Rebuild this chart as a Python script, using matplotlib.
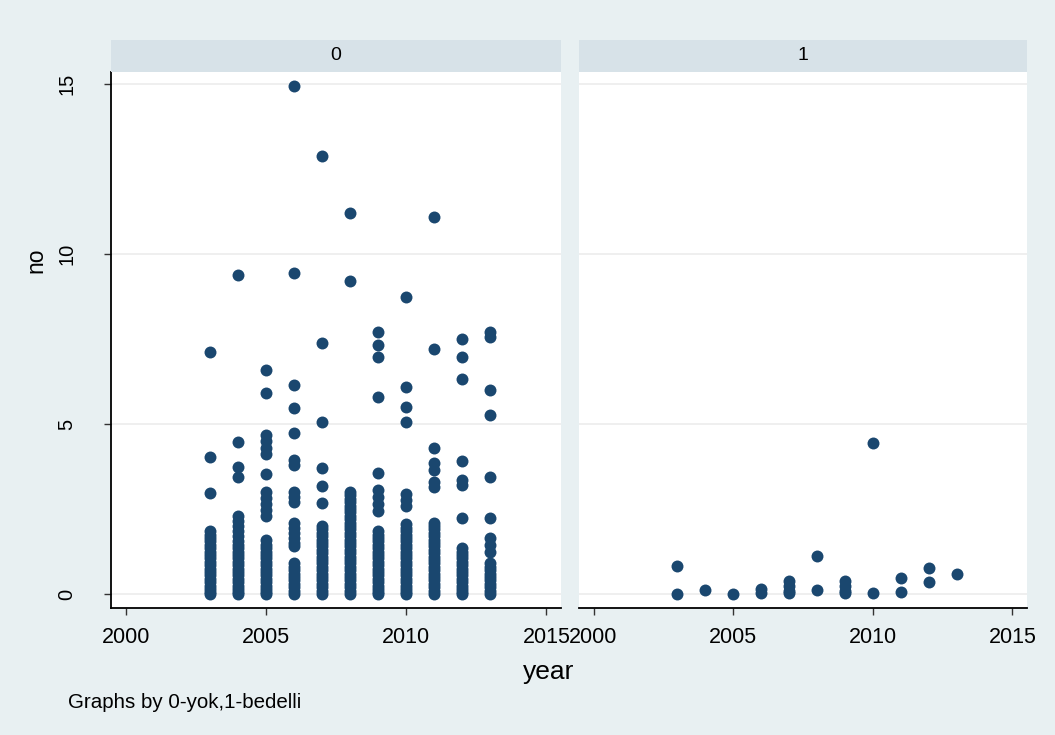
import matplotlib
matplotlib.use("Agg")
import matplotlib.pyplot as plt

plt.rcParams["font.family"] = ["Liberation Sans", "DejaVu Sans"]

# no by year, group 0 (yok)
YOK_2003 = [7.12, 4.03, 2.97, 1.85, 1.75, 1.65, 1.55, 1.45, 1.35, 1.25, 1.15, 1.05, 0.95,
            0.85, 0.75, 0.65, 0.55, 0.45, 0.35, 0.25, 0.15, 0.05, 0.0]
YOK_2004 = [9.38, 4.47, 3.74, 3.44, 2.3, 2.15, 2.0, 1.85, 1.7, 1.55, 1.45, 1.35, 1.25, 1.15,
            1.05, 0.95, 0.85, 0.75, 0.65, 0.55, 0.45, 0.35, 0.25, 0.15, 0.05, 0.0]
YOK_2005 = [6.6, 5.92, 4.68, 4.5, 4.3, 4.12, 3.53, 3.0, 2.82, 2.64, 2.46, 2.3, 1.6, 1.45,
            1.35, 1.25, 1.15, 1.05, 0.95, 0.85, 0.75, 0.65, 0.55, 0.45, 0.35, 0.25, 0.15,
            0.05, 0.0]
YOK_2006 = [14.94, 9.44, 6.15, 5.47, 4.74, 3.95, 3.8, 3.0, 2.85, 2.7, 2.1, 1.95, 1.8, 1.65,
            1.5, 1.4, 0.9, 0.8, 0.7, 0.6, 0.5, 0.4, 0.3, 0.2, 0.1, 0.0]
YOK_2007 = [12.88, 7.38, 5.05, 3.72, 3.18, 2.69, 2.0, 1.9, 1.8, 1.7, 1.6, 1.5, 1.4, 1.3,
            1.2, 1.1, 1.0, 0.9, 0.8, 0.7, 0.6, 0.5, 0.4, 0.3, 0.2, 0.1, 0.0]
YOK_2008 = [11.2, 9.2, 3.0, 2.9, 2.8, 2.7, 2.6, 2.5, 2.4, 2.3, 2.2, 2.1, 2.0, 1.9, 1.8,
            1.7, 1.6, 1.5, 1.4, 1.3, 1.2, 1.1, 1.0, 0.9, 0.8, 0.7, 0.6, 0.5, 0.4, 0.3,
            0.2, 0.1, 0.0]
YOK_2009 = [7.7, 7.32, 6.97, 5.8, 3.57, 3.05, 2.85, 2.65, 2.45, 1.85, 1.75, 1.65, 1.55,
            1.45, 1.35, 1.25, 1.15, 1.05, 0.95, 0.85, 0.75, 0.65, 0.55, 0.45, 0.35, 0.25,
            0.15, 0.05, 0.0]
YOK_2010 = [8.74, 6.09, 5.5, 5.06, 2.95, 2.78, 2.6, 2.05, 1.95, 1.85, 1.75, 1.65, 1.55,
            1.45, 1.35, 1.25, 1.15, 1.05, 0.95, 0.85, 0.75, 0.65, 0.55, 0.45, 0.35, 0.25,
            0.15, 0.05, 0.0]
YOK_2011 = [11.09, 7.2, 4.3, 3.85, 3.65, 3.3, 3.15, 2.1, 2.0, 1.9, 1.8, 1.7, 1.6, 1.5,
            1.4, 1.3, 1.2, 1.1, 1.0, 0.9, 0.8, 0.7, 0.6, 0.5, 0.4, 0.3, 0.2, 0.1, 0.0]
YOK_2012 = [7.5, 6.97, 6.31, 3.9, 3.35, 3.2, 2.24, 1.35, 1.25, 1.15, 1.05, 0.95, 0.85,
            0.75, 0.65, 0.55, 0.45, 0.35, 0.25, 0.15, 0.05, 0.0]
YOK_2013 = [7.7, 7.55, 6.0, 5.27, 3.44, 2.24, 1.65, 1.45, 1.25, 0.9, 0.8, 0.7, 0.6, 0.5,
            0.4, 0.3, 0.2, 0.1, 0.0]
YOK_YEARS = [2003, 2004, 2005, 2006, 2007, 2008, 2009, 2010, 2011, 2012, 2013]
YOK_NO = [YOK_2003, YOK_2004, YOK_2005, YOK_2006, YOK_2007, YOK_2008, YOK_2009,
          YOK_2010, YOK_2011, YOK_2012, YOK_2013]

# group 1 (bedelli)
BED_YEAR = [2003, 2003, 2004, 2005, 2006, 2006, 2007, 2007, 2007, 2007, 2008, 2008,
            2009, 2009, 2009, 2009, 2010, 2010, 2011, 2011, 2012, 2012, 2013]
BED_NO = [0.83, 0.0, 0.12, 0.0, 0.15, 0.02, 0.38, 0.25, 0.1, 0.02, 1.12, 0.12,
          0.38, 0.25, 0.1, 0.02, 4.44, 0.02, 0.47, 0.06, 0.77, 0.36, 0.6]

PANELS = ["0", "1"]
XTICKS = [2000, 2005, 2010, 2015]
YTICKS = [0, 5, 10, 15]

BG = "#e8f0f2"
STRIP = "#d7e2e8"
NAVY = "#1a476f"

W, H = 1055, 735
fig = plt.figure(figsize=(W / 100, H / 100), dpi=100, facecolor=BG)


def frac(x0, y0, x1, y1):
    # pixel box -> figure fraction [left, bottom, width, height]
    return [x0 / W, 1 - y1 / H, (x1 - x0) / W, (y1 - y0) / H]


axes = [fig.add_axes(frac(111, 72, 561, 608)), fig.add_axes(frac(579, 72, 1027, 608))]
strips = [fig.add_axes(frac(111, 40, 561, 72)), fig.add_axes(frac(579, 40, 1027, 72))]

for ax, st, lab in zip(axes, strips, PANELS):
    ax.set_facecolor("white")
    ax.set_xlim(1999.48, 2015.52)
    ax.set_ylim(-0.41, 15.35)
    ax.set_xticks(XTICKS)
    ax.set_yticks(YTICKS)
    ax.grid(axis="y", color="#ececec", lw=1.2)
    ax.set_axisbelow(True)
    for s in ("top", "right"):
        ax.spines[s].set_visible(False)
    ax.spines["bottom"].set_linewidth(1.3)
    ax.spines["left"].set_linewidth(1.3)
    ax.tick_params(axis="both", length=5, width=1, color="#333333")
    ax.tick_params(axis="x", labelsize=15.5, pad=9)
    ax.tick_params(axis="y", labelsize=14.5, pad=20, labelrotation=90)
    for t in ax.get_yticklabels():
        t.set_va("center")

    st.set_facecolor(STRIP)
    st.set_xticks([]); st.set_yticks([])
    for s in st.spines.values():
        s.set_visible(False)
    st.text(0.5, 0.5, lab, ha="center", va="center", fontsize=14, transform=st.transAxes)

for yr, vals in zip(YOK_YEARS, YOK_NO):
    axes[0].plot([yr] * len(vals), vals, "o", color=NAVY, ms=8.6, mew=0)
axes[1].plot(BED_YEAR, BED_NO, "o", color=NAVY, ms=8.6, mew=0)

axes[1].spines["left"].set_visible(False)
axes[1].tick_params(axis="y", left=False, labelleft=False)

fig.text(36 / W, 1 - 260 / H, "no", rotation=90, ha="center", va="center", fontsize=16.5)
fig.text(549 / W, 1 - 672 / H, "year", ha="center", va="center", fontsize=19)
fig.text(68 / W, 1 - 703 / H, "Graphs by 0-yok,1-bedelli", ha="left", va="center", fontsize=14.8)

fig.savefig("out.png", dpi=100, facecolor=BG)
